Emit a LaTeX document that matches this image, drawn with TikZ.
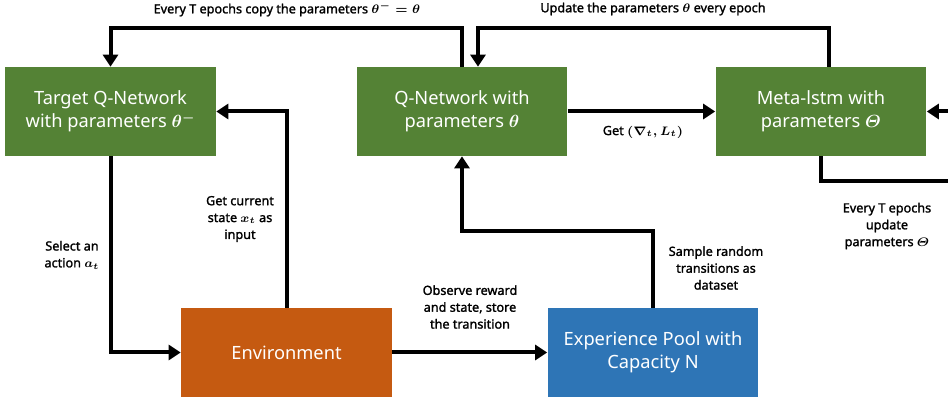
\documentclass[tikz,border=0pt]{standalone}
\usepackage{amsmath}
\usepackage{fontspec}
\setmainfont{Noto Sans}
\newfontfamily\lblfont{Noto Sans}[FakeBold=1.6]
\usepackage{tikz}
\usetikzlibrary{positioning}
\usetikzlibrary{arrows.meta}
\definecolor{netgreen}{HTML}{548235}
\definecolor{envorange}{HTML}{C55A11}
\definecolor{poolblue}{HTML}{2E75B6}
\tikzset {
  % filled blocks
  main/.style = {minimum width=4.22cm, minimum height=1.78cm, inner sep=1pt,
    text=white, align=center, font=\fontsize{10.4}{13}\selectfont\boldmath},
  net/.style = {main, fill=netgreen},
  env/.style = {main, fill=envorange},
  pool/.style = {main, fill=poolblue},
  % thick black connectors
  flow/.style = {line width=0.08cm, -{Triangle[length=0.24cm, width=0.3cm]}},
  % text beside the connectors
  lbl/.style = {align=center, inner sep=1pt, font=\fontsize{7.2}{9.6}\selectfont\lblfont\boldmath},
}

\begin{document}
\begin{tikzpicture}[x=0.02cm, y=-0.02cm]
        \useasboundingbox (0,0) rectangle (948,401);

        \node[net] (target) at (110.5,111.5) {Target Q-Network\\with parameters $\theta^{-}$};
        \node[net] (qnet) at (462,111.5) {Q-Network with\\parameters $\theta$};
        \node[net] (meta) at (821,111.5) {Meta-lstm with\\parameters $\varTheta$};
        \node[env] (env) at (286.5,352.5) {Environment};
        \node[pool] (pool) at (653,352.5) {Experience Pool with\\Capacity N};

        % levels of the bent connectors, and the loose ends on the right
        \coordinate (top) at (0,28);
        \coordinate (mid) at (0,231);
        \coordinate (rin) at (948,111.5);
        \coordinate (rout) at (948,181);

        \draw [flow] (qnet.north) -- (qnet.north |- top) -| (target.north);
        \draw [flow] ([xshift=0.16cm]meta.north) -- ([xshift=0.16cm]meta.north |- top) -| ([xshift=0.32cm]qnet.north);
        \draw [flow] (qnet.east) -- (meta.west);
        \draw [flow] (rin) -- (meta.east);
        \draw [flow, -] (meta.south) |- (rout);
        \draw [flow] (target.south) |- (env.west);
        \draw [flow] (env.north) |- (target.east);
        \draw [flow] (env.east) -- (pool.west);
        \draw [flow] (pool.north) -- (pool.north |- mid) -| (qnet.south);

        \node[lbl] (copy) at (287,9) {Every T epochs copy the parameters $\theta^{-}=\theta$};
        \node[lbl] (update) at (653,9) {Update the parameters $\theta$ every epoch};
        \node[lbl] (grad) at (643,132) {Get $(\nabla_t,L_t)$};
        \node[lbl] (every) at (887,226) {Every T epochs\\update\\parameters $\varTheta$};
        \node[lbl] (sample) at (716,268) {Sample random\\transitions as\\dataset};
        \node[lbl] (observe) at (470,307) {Observe reward\\and state, store\\the transition};
        \node[lbl] (select) at (72,255) {Select an\\action $a_t$};
        \node[lbl] (state) at (240,219) {Get current\\state $x_t$ as\\input};
      \end{tikzpicture}
\end{document}
